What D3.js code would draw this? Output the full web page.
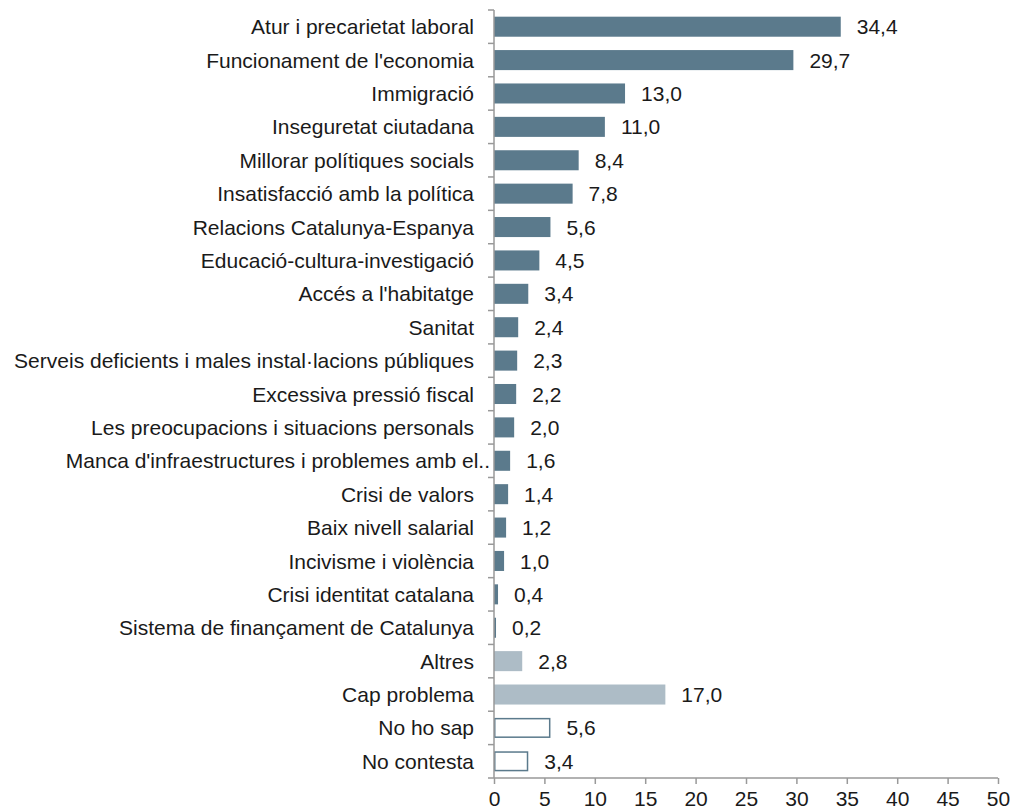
<!DOCTYPE html>
<html><head><meta charset="utf-8">
<script src="https://cdn.jsdelivr.net/npm/d3@7"></script>
<style>body{margin:0;background:#fff}</style>
</head><body>
<svg id="c" width="1014" height="811"></svg>
<script>
const categories = ["Atur i precarietat laboral","Funcionament de l'economia","Immigració","Inseguretat ciutadana","Millorar polítiques socials","Insatisfacció amb la política","Relacions Catalunya-Espanya","Educació-cultura-investigació","Accés a l'habitatge","Sanitat","Serveis deficients i males instal·lacions públiques","Excessiva pressió fiscal","Les preocupacions i situacions personals","Manca d'infraestructures i problemes amb el..","Crisi de valors","Baix nivell salarial","Incivisme i violència","Crisi identitat catalana","Sistema de finançament de Catalunya","Altres","Cap problema","No ho sap","No contesta"];
const values = [34.4,29.7,13.0,11.0,8.4,7.8,5.6,4.5,3.4,2.4,2.3,2.2,2.0,1.6,1.4,1.2,1.0,0.4,0.2,2.8,17.0,5.6,3.4];
const groups = ["p","p","p","p","p","p","p","p","p","p","p","p","p","p","p","p","p","p","p","o","o","n","n"];
const xTicks = [0,5,10,15,20,25,30,35,40,45,50];

const svg = d3.select("#c");
const x = d3.scaleLinear().domain([0,50]).range([494,998]);
const y = d3.scaleBand().domain(categories).range([10,778]).paddingInner(0.4).paddingOuter(0.2);
const dark = "#5b7a8c", light = "#adbcc6";
const font = "Liberation Sans, Arial, sans-serif";
const fs = 21;

svg.selectAll("rect.bar").data(categories).enter().append("rect")
  .attr("x", x(0))
  .attr("y", d => y(d))
  .attr("height", y.bandwidth())
  .attr("width", (d,i) => x(values[i]) - x(0))
  .attr("fill", (d,i) => groups[i]==="p" ? dark : groups[i]==="o" ? light : "#fff")
  .attr("stroke", (d,i) => groups[i]==="n" ? dark : "none")
  .attr("stroke-width", 1.5)
  .each(function(d,i){ if(groups[i]==="n"){ d3.select(this).attr("y", y(d)+0.75).attr("height", y.bandwidth()-1.5).attr("x", x(0)+0.75).attr("width", x(values[i])-x(0)-1.5);} });

svg.selectAll("text.val").data(categories).enter().append("text")
  .attr("x", (d,i) => x(values[i]) + 16)
  .attr("y", d => y(d) + y.bandwidth()/2)
  .attr("dy", "0.36em")
  .attr("font-family", font).attr("font-size", fs).attr("fill", "#1a1a1a")
  .text((d,i) => d3.format(".1f")(values[i]).replace(".", ","));

// y axis
const yAxisG = svg.append("g");
yAxisG.append("line").attr("x1",494).attr("x2",494).attr("y1",10).attr("y2",778).attr("stroke","#999").attr("stroke-width",1.5);
d3.range(categories.length+1).forEach(i=>{
  const yy = 10 + i*(768/categories.length);
  yAxisG.append("line").attr("x1",488).attr("x2",494).attr("y1",yy).attr("y2",yy).attr("stroke","#999").attr("stroke-width",1.5);
});
yAxisG.selectAll("text").data(categories).enter().append("text")
  .attr("x", d => d.endsWith("..") ? 490 : 474).attr("y", d => y(d)+y.bandwidth()/2).attr("dy","0.36em")
  .attr("text-anchor","end").attr("font-family",font).attr("font-size",fs).attr("fill","#1a1a1a")
  .text(d=>d);

// x axis
const xAxis = d3.axisBottom(x).tickValues(xTicks).tickSize(6).tickPadding(6).tickFormat(d=>d);
const gx = svg.append("g").attr("transform","translate(0,778)").call(xAxis);
gx.select(".domain").attr("stroke","#999").attr("stroke-width",1.5).attr("d","M494,0H998");
gx.selectAll(".tick line").attr("stroke","#999").attr("stroke-width",1.5);
gx.selectAll(".tick text").attr("font-family",font).attr("font-size",fs).attr("fill","#1a1a1a").attr("dy","0.75em");
</script>
</body></html>
